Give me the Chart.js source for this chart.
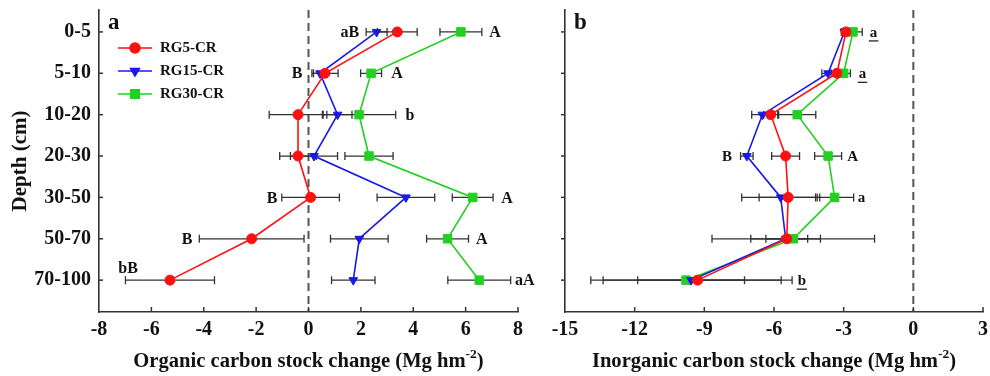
<!DOCTYPE html>
<html>
<head>
<meta charset="utf-8">
<script src="https://cdn.jsdelivr.net/npm/chart.js@4.4.1/dist/chart.umd.min.js"></script>
<style>
  html, body { margin: 0; padding: 0; background: #fff; }
  #wrap { position: relative; width: 990px; height: 376px; }
  #boxA { position: absolute; left: 0; top: 0; width: 540px; height: 376px; }
  #boxB { position: absolute; left: 540px; top: 0; width: 450px; height: 376px; }
</style>
</head>
<body>
<div id="wrap">
  <div id="boxA"><canvas id="chartA"></canvas></div>
  <div id="boxB"><canvas id="chartB"></canvas></div>
</div>
<script>
const depths = ["0-5", "5-10", "10-20", "20-30", "30-50", "50-70", "70-100"];
const seriesNames = ["RG5-CR", "RG15-CR", "RG30-CR"];

// organic carbon stock change (Mg hm-2): mean and error bar half-width
const rg5Org = [3.39, 0.63, -0.40, -0.40, 0.08, -2.17, -5.29];
const rg5OrgErr = [0.76, 0.50, 1.10, 0.70, 1.10, 2.00, 1.70];
const rg15Org = [2.60, 0.44, 1.11, 0.21, 3.72, 1.94, 1.71];
const rg15OrgErr = [0.40, 0.25, 0.55, 0.90, 1.10, 1.10, 0.83];
const rg30Org = [5.82, 2.39, 1.93, 2.31, 6.27, 5.31, 6.52];
const rg30OrgErr = [0.80, 0.40, 1.40, 0.92, 0.78, 0.80, 1.20];

// inorganic carbon stock change (Mg hm-2)
const rg5Inorg = [-2.90, -3.29, -6.14, -5.50, -5.39, -5.45, -9.29];
const rg5InorgErr = [0.15, 0.25, 0.30, 0.60, 1.25, 0.90, 4.07];
const rg15Inorg = [-2.97, -3.67, -6.50, -7.17, -5.71, -5.50, -9.57];
const rg15InorgErr = [0.13, 0.27, 0.46, 0.27, 1.68, 1.50, 2.30];
const rg30Inorg = [-2.60, -3.00, -5.00, -3.67, -3.39, -5.17, -9.79];
const rg30InorgErr = [0.40, 0.29, 0.80, 0.58, 0.82, 3.50, 4.10];

// significance letters: depth row and x value where they sit
const orgLetters = [
  { row: 0, x: 1.58, text: "aB" }, { row: 0, x: 7.12, text: "A" },
  { row: 1, x: -0.44, text: "B" }, { row: 1, x: 3.38, text: "A" },
  { row: 2, x: 3.87, text: "b" },
  { row: 4, x: -1.39, text: "B" }, { row: 4, x: 7.58, text: "A" },
  { row: 5, x: -4.64, text: "B" }, { row: 5, x: 6.62, text: "A" },
  { row: 5.7, x: -6.89, text: "bB" }, { row: 6, x: 8.26, text: "aA" }
];
const inorgLetters = [
  { row: 0, x: -1.71, text: "a", underline: true },
  { row: 1, x: -2.19, text: "a", underline: true },
  { row: 3, x: -8.02, text: "B" }, { row: 3, x: -2.61, text: "A" },
  { row: 4, x: -2.23, text: "a" },
  { row: 6, x: -4.80, text: "b", underline: true }
];

const SERIF = '"Liberation Serif", "Times New Roman", serif';
const colors = ["#ff1010", "#1818e8", "#22d022"];
const styles = [
  { pointStyle: "circle", rotation: 0, radius: 5 },
  { pointStyle: "triangle", rotation: 180, radius: 5 },
  { pointStyle: "rect", rotation: 0, radius: 6 }
];

function series(i, vals, errs) {
  return {
    label: seriesNames[i],
    data: vals.map((v, k) => ({ x: v, y: k })),
    errors: errs,
    borderColor: colors[i],
    backgroundColor: colors[i],
    pointStyle: styles[i].pointStyle,
    pointRotation: styles[i].rotation,
    pointRadius: styles[i].radius,
    pointBorderWidth: 1,
    borderWidth: 1.6,
    showLine: true,
    tension: 0
  };
}

const decor = {
  id: "decor",
  beforeDatasetsDraw(chart, args, opts) {
    const { ctx, chartArea, scales: { x, y } } = chart;
    ctx.save();
    // dashed zero line
    const zx = x.getPixelForValue(0);
    ctx.strokeStyle = "#555";
    ctx.lineWidth = 2;
    ctx.setLineDash([8, 5]);
    ctx.beginPath();
    ctx.moveTo(zx, chartArea.top);
    ctx.lineTo(zx, chartArea.bottom);
    ctx.stroke();
    ctx.setLineDash([]);
    // error bars
    ctx.strokeStyle = "#333";
    ctx.lineWidth = 1.3;
    chart.data.datasets.forEach(ds => {
      ds.errors.forEach((e, i) => {
        const p = ds.data[i];
        const py = y.getPixelForValue(p.y);
        const x0 = x.getPixelForValue(p.x - e), x1 = x.getPixelForValue(p.x + e);
        ctx.beginPath();
        ctx.moveTo(x0, py); ctx.lineTo(x1, py);
        ctx.moveTo(x0, py - 4); ctx.lineTo(x0, py + 4);
        ctx.moveTo(x1, py - 4); ctx.lineTo(x1, py + 4);
        ctx.stroke();
      });
    });
    ctx.restore();
  },
  afterDraw(chart, args, opts) {
    const { ctx, chartArea, scales: { x, y } } = chart;
    ctx.save();
    // tick marks
    ctx.strokeStyle = "#333";
    ctx.lineWidth = 1.5;
    x.ticks.forEach(t => {
      const px = x.getPixelForValue(t.value);
      if (Math.abs(px - chartArea.left) < 2) return;
      ctx.beginPath();
      ctx.moveTo(px, chartArea.bottom);
      ctx.lineTo(px, chartArea.bottom - 5);
      ctx.stroke();
    });
    y.ticks.forEach(t => {
      const py = y.getPixelForValue(t.value);
      ctx.beginPath();
      ctx.moveTo(chartArea.left, py);
      ctx.lineTo(chartArea.left + opts.yTick, py);
      ctx.stroke();
    });

    // panel letter
    ctx.fillStyle = "#111";
    ctx.font = "bold 23px " + SERIF;
    ctx.textAlign = "left";
    ctx.textBaseline = "alphabetic";
    ctx.fillText(opts.panel, chartArea.left + 9, 29);

    // significance letters
    ctx.font = "bold " + opts.letterSize + "px " + SERIF;
    ctx.textAlign = "center";
    ctx.textBaseline = "middle";
    opts.letters.forEach(l => {
      const px = x.getPixelForValue(l.x), py = y.getPixelForValue(l.row) + 1;
      ctx.fillText(l.text, px, py);
      if (l.underline) {
        const w = ctx.measureText(l.text).width;
        ctx.lineWidth = 1.2;
        ctx.strokeStyle = "#111";
        ctx.beginPath();
        ctx.moveTo(px - w / 2 - 1, py + 8);
        ctx.lineTo(px + w / 2 + 1, py + 8);
        ctx.stroke();
      }
    });

    // x title with superscript
    const big = "bold 20.6px " + SERIF, small = "bold 13.5px " + SERIF;
    ctx.textAlign = "left";
    ctx.textBaseline = "alphabetic";
    ctx.font = big;
    const w1 = ctx.measureText(opts.xTitle).width;
    const w3 = ctx.measureText(")").width;
    ctx.font = small;
    const w2 = ctx.measureText("-2").width;
    let sx = (chartArea.left + chartArea.right) / 2 - (w1 + w2 + w3) / 2;
    const base = chart.height - 9;
    ctx.font = big;
    ctx.fillText(opts.xTitle, sx, base);
    ctx.font = small;
    ctx.fillText("-2", sx + w1, base - 9);
    ctx.font = big;
    ctx.fillText(")", sx + w1 + w2, base);

    // legend
    if (opts.legend) {
      ctx.font = "bold 15px " + SERIF;
      ctx.textBaseline = "middle";
      chart.data.datasets.forEach((ds, i) => {
        const ly = 48 + i * 23;
        ctx.strokeStyle = ds.borderColor;
        ctx.fillStyle = ds.backgroundColor;
        ctx.lineWidth = 1.6;
        ctx.beginPath();
        ctx.moveTo(118, ly); ctx.lineTo(152, ly);
        ctx.stroke();
        Chart.helpers.drawPoint(ctx, {
          pointStyle: styles[i].pointStyle, rotation: styles[i].rotation,
          radius: styles[i].radius, borderWidth: 1
        }, 135, ly);
        ctx.fillStyle = "#111";
        ctx.fillText(ds.label, 160, ly);
      });
    }
    ctx.restore();
  }
};

const tickFont = { family: SERIF, size: 20, weight: "bold" };
const axisBorder = { display: true, color: "#333", width: 1.6 };

function makeScales(xMin, xMax, step, yWidth, showY) {
  return {
    x: {
      type: "linear", min: xMin, max: xMax,
      afterFit: s => { s.height = 64; s.paddingLeft = 0; s.paddingRight = 0; },
      ticks: { stepSize: step, color: "#111", font: tickFont, padding: 6 },
      grid: { display: false, drawTicks: false },
      border: axisBorder
    },
    y: {
      type: "linear", reverse: true, min: -0.53, max: 6.77,
      afterBuildTicks: s => { s.ticks = depths.map((d, i) => ({ value: i })); },
      afterFit: s => { s.width = yWidth; s.paddingTop = 0; s.paddingBottom = 0; },
      ticks: { display: showY, callback: v => depths[v], color: "#111", font: tickFont, padding: 8 },
      grid: { display: false, drawTicks: false },
      border: axisBorder,
      title: {
        display: showY, text: "Depth (cm)", color: "#111",
        font: { family: SERIF, size: 21, weight: "bold" },
        padding: { top: 8, bottom: 0 }
      }
    }
  };
}

new Chart(document.getElementById("chartA"), {
  type: "scatter",
  data: {
    datasets: [
      series(0, rg5Org, rg5OrgErr),
      series(1, rg15Org, rg15OrgErr),
      series(2, rg30Org, rg30OrgErr)
    ]
  },
  options: {
    responsive: true, maintainAspectRatio: false, animation: false, events: [],
    layout: { padding: { top: 10, right: 22, left: 0, bottom: 0 } },
    scales: makeScales(-8, 8, 2, 99, true),
    plugins: {
      legend: { display: false }, tooltip: { enabled: false },
      decor: { panel: "a", letters: orgLetters, letterSize: 16, yTick: 4, legend: true,
               xTitle: "Organic carbon stock change (Mg hm" }
    }
  },
  plugins: [decor]
});

new Chart(document.getElementById("chartB"), {
  type: "scatter",
  data: {
    datasets: [
      series(0, rg5Inorg, rg5InorgErr),
      series(1, rg15Inorg, rg15InorgErr),
      series(2, rg30Inorg, rg30InorgErr)
    ]
  },
  options: {
    responsive: true, maintainAspectRatio: false, animation: false, events: [],
    layout: { padding: { top: 10, right: 2, left: 0, bottom: 0 } },
    scales: makeScales(-15, 3, 3, 25, false),
    plugins: {
      legend: { display: false }, tooltip: { enabled: false },
      decor: { panel: "b", letters: inorgLetters, letterSize: 15, yTick: -4, legend: false,
               xTitle: "Inorganic carbon stock change (Mg hm" }
    }
  },
  plugins: [decor]
});
</script>
</body>
</html>
